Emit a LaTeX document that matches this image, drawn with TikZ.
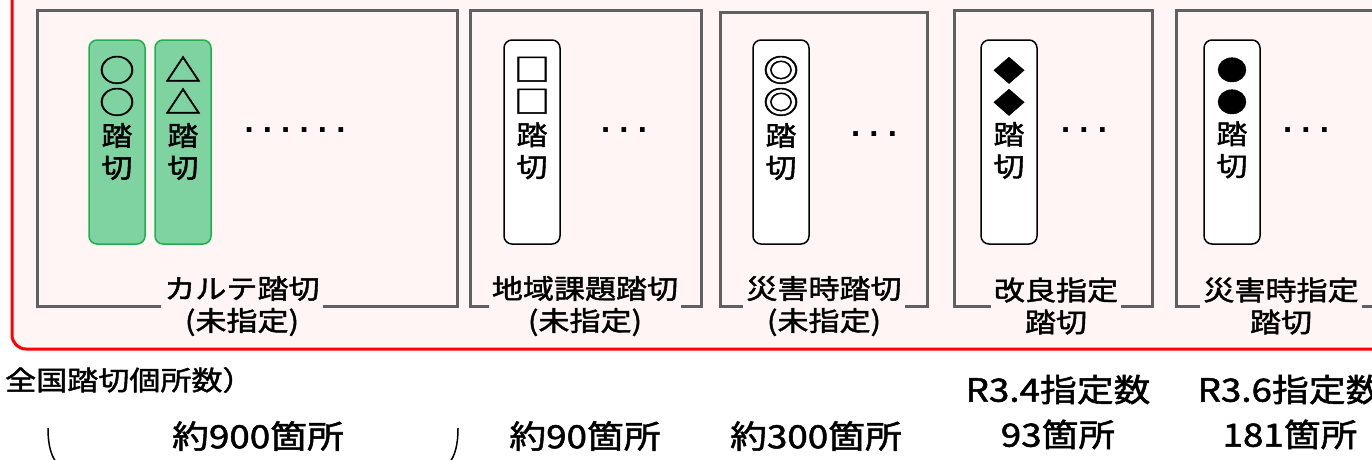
\documentclass[tikz,border=0pt]{standalone}
\usepackage{fontspec}
\setmainfont[FakeStretch=1.15,BoldFont={Noto Sans CJK JP},BoldFeatures={FakeBold=1.6,FakeStretch=1.15}]{Noto Sans CJK JP}
\newfontfamily\dotfont{Liberation Sans}
\definecolor{bgpink}{HTML}{FFF5F5}
\definecolor{framered}{HTML}{FF0000}
\definecolor{boxgray}{HTML}{606060}
\definecolor{kartefill}{HTML}{7ED3A0}
\definecolor{karteline}{HTML}{20B04C}
\newcommand{\bigsym}[1]{{\fontsize{31}{32}\selectfont #1}}
\tikzset{
  groupbox/.style={draw=boxgray, line width=3pt},
  fumikiribox/.style={draw=black, fill=white, line width=1.5pt, rounded corners=8pt,
    minimum width=56pt, minimum height=204pt, inner sep=0pt},
  kartebox/.style={fumikiribox, draw=karteline, fill=kartefill},
  stacktext/.style={align=center, font=\fontsize{27}{32}\selectfont\bfseries, inner sep=0pt},
  grouplabel/.style={fill=bgpink, align=center, font=\fontsize{27}{32}\selectfont\bfseries, inner sep=3pt},
  dotrow/.style={font=\dotfont\bfseries\fontsize{33}{33}\selectfont\frenchspacing, inner sep=0pt},
  counttext/.style={align=center, font=\fontsize{32}{45}\selectfont\bfseries, inner sep=0pt}
}
\begin{document}
\begin{tikzpicture}[x=1pt,y=-1pt]
	\useasboundingbox (0,0) rectangle (1372,459);
	\clip (0,0) rectangle (1372,459);
	% red frame
	\draw[framered, fill=bgpink, line width=3pt, rounded corners=14pt] (12,-40) rectangle (1430,349);
	% groups
	\draw[groupbox] (37,10) rectangle (457,306);
	\draw[groupbox] (470,10) rectangle (701,306);
	\draw[groupbox] (720,12) rectangle (927,306);
	\draw[groupbox] (954,10) rectangle (1152,306);
	\draw[groupbox] (1176,10) rectangle (1420,306);
	\node[grouplabel] (karteLbl) at (242,306) {カルテ踏切\\(未指定)};
	\node[grouplabel] (chiikiLbl) at (585,306) {地域課題踏切\\(未指定)};
	\node[grouplabel] (saigaiLbl) at (824,306) {災害時踏切\\(未指定)};
	\node[grouplabel] (kairyoLbl) at (1056,306) {改良指定\\踏切};
	\node[grouplabel] (saishiLbl) at (1281,306) {災害時指定\\踏切};
	% crossings
	\node[kartebox] (maru) at (117,142) {};
	\node[stacktext] (maruTxt) at (117,118) {\bigsym{○}\\\bigsym{○}\\踏\\切};
	\node[kartebox] (sankaku) at (183,142) {};
	\node[stacktext] (sankakuTxt) at (183,118) {\bigsym{△}\\\bigsym{△}\\踏\\切};
	\node[fumikiribox] (shikaku) at (532,142) {};
	\node[stacktext] (shikakuTxt) at (532,118) {\bigsym{□}\\\bigsym{□}\\踏\\切};
	\node[fumikiribox] (nijumaru) at (781,142) {};
	\node[stacktext] (nijumaruTxt) at (781,118) {\bigsym{◎}\\\bigsym{◎}\\踏\\切};
	\node[fumikiribox] (hishi) at (1009,142) {};
	\node[stacktext] (hishiTxt) at (1009,118) {◆\\◆\\踏\\切};
	\node[fumikiribox] (kuromaru) at (1232,142) {};
	\node[stacktext] (kuromaruTxt) at (1232,118) {●\\●\\踏\\切};
	\node[dotrow] (karteDots) at (295,130) {. . . . . .};
	\node[dotrow] (chiikiDots) at (624,130) {. . .};
	\node[dotrow] (saigaiDots) at (874,134) {. . .};
	\node[dotrow] (kairyoDots) at (1084,130) {. . .};
	\node[dotrow] (saishiDots) at (1306,130) {. . .};
	% counts
	\node[anchor=west, inner sep=0pt, font=\fontsize{27}{32}\selectfont\bfseries] (zenkoku) at (5,380) {全国踏切個所数）};
	\node[counttext] (karteCnt) at (258,436) {約900箇所};
	\draw[line width=1.5pt] (48,428) .. controls (48,445) and (51,455) .. (56,462);
	\draw[line width=1.5pt] (458,428) .. controls (458,445) and (455,455) .. (450,462);
	\node[counttext] (chiikiCnt) at (585,436) {約90箇所};
	\node[counttext] (saigaiCnt) at (816,436) {約300箇所};
	\node[counttext] (kairyoCnt) at (1058,412) {R3.4指定数\\93箇所};
	\node[counttext] (saishiCnt) at (1290,412) {R3.6指定数\\181箇所};
\end{tikzpicture}
\end{document}
